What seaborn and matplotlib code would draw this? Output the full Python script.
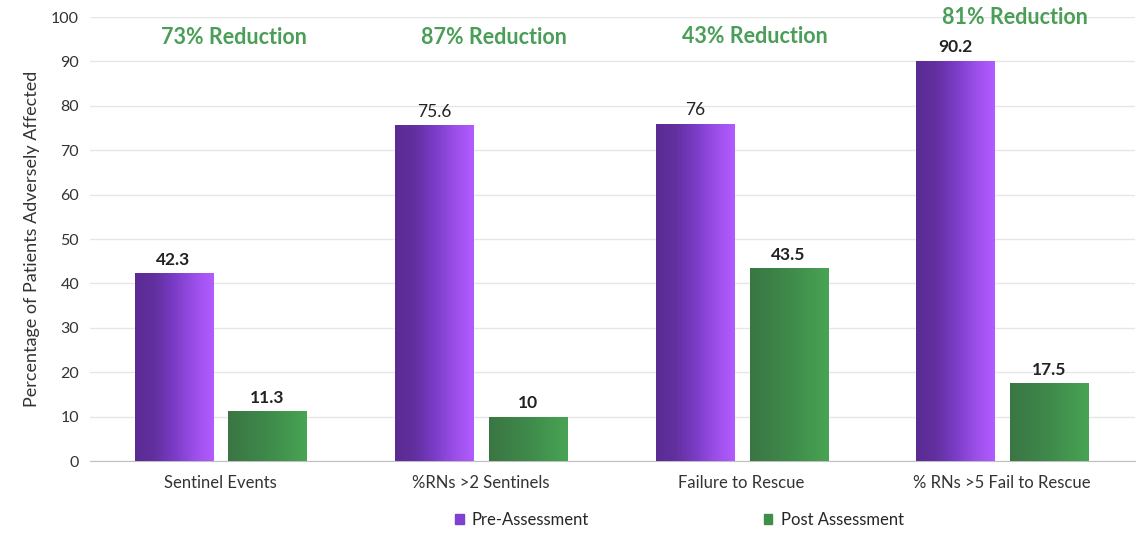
import numpy as np
import pandas as pd
import matplotlib
matplotlib.use("Agg")
import matplotlib.pyplot as plt
import seaborn as sns
from matplotlib.colors import LinearSegmentedColormap

categories = ["Sentinel Events", "%RNs >2 Sentinels", "Failure to Rescue", "% RNs >5 Fail to Rescue"]
pre_values = [42.3, 75.6, 76, 90.2]
post_values = [11.3, 10, 43.5, 17.5]
pre_labels = ["42.3", "75.6", "76", "90.2"]
post_labels = ["11.3", "10", "43.5", "17.5"]
reductions = ["73% Reduction", "87% Reduction", "43% Reduction", "81% Reduction"]
reduction_y = [95.3, 95.3, 95.7, 99.8]
series = ["Pre-Assessment", "Post Assessment"]

sns.set_style("white")
plt.rcParams['font.family'] = ['Lato', 'DejaVu Sans']

df = pd.DataFrame({
    "category": categories * 2,
    "value": pre_values + post_values,
    "series": [series[0]] * 4 + [series[1]] * 4,
})

purple_c = "#7b3fc4"
green_c = "#3f8f4a"

fig = plt.figure(figsize=(11.42, 5.33), dpi=100)
ax = fig.add_axes([0.079, 0.135, 0.915, 0.833])

sns.barplot(df, x="category", y="value", hue="series", order=categories,
            hue_order=series, palette=[purple_c, green_c], width=0.72, gap=0.167,
            ax=ax, legend=False, zorder=2)

# gradient fill, clipped to each bar
cmaps = {
    series[0]: LinearSegmentedColormap.from_list("p", ["#5a2b93", "#62309f", "#7a3cc6", "#9a4ee8", "#b25cff"]),
    series[1]: LinearSegmentedColormap.from_list("g", ["#3a7644", "#3f8a4a", "#48a454"]),
}
grad = np.linspace(0, 1, 256).reshape(1, -1)
bars = ax.patches
for i, bar in enumerate(bars[:8]):
    s = series[0] if i < 4 else series[1]
    x0 = bar.get_x()
    w = bar.get_width()
    h = bar.get_height()
    im = ax.imshow(grad, aspect="auto", cmap=cmaps[s], extent=[x0, x0 + w, 0, h], zorder=3)
    im.set_clip_path(bar)

for i in range(4):
    pb = bars[i]
    gb = bars[i + 4]
    ax.text(pb.get_x() + pb.get_width() / 2, pb.get_height() + 1.2, pre_labels[i],
            ha="center", va="bottom", fontsize=12.5,
            fontweight="normal" if i in (1, 2) else "bold", color="#222222", zorder=4)
    ax.text(gb.get_x() + gb.get_width() / 2, gb.get_height() + 1.2, post_labels[i],
            ha="center", va="bottom", fontsize=12.5, fontweight="bold", color="#222222", zorder=4)
    ax.text(i + 0.05, reduction_y[i], reductions[i], ha="center", va="center",
            fontsize=15.5, fontweight="bold", color="#4a9e57", zorder=4)

ax.set_xlim(-0.50, 3.51)
ax.set_ylim(0, 100)
ax.set_yticks(range(0, 101, 10))
ax.yaxis.grid(True, color="#e6e6e6", linewidth=1)
ax.set_axisbelow(True)
for side in ["top", "right", "left"]:
    ax.spines[side].set_visible(False)
ax.spines["bottom"].set_color("#bfbfbf")
ax.tick_params(axis="y", length=0, labelsize=11.5, colors="#333333", pad=8)
ax.tick_params(axis="x", length=0, labelsize=12, colors="#333333", pad=10)
ax.set_xlabel("")
ax.set_ylabel("Percentage of Patients Adversely Affected", fontsize=13, color="#333333", labelpad=8)

handles = [plt.Rectangle((0, 0), 1, 1, color="#8040d0"), plt.Rectangle((0, 0), 1, 1, color="#3f8f4a")]
fig.legend(handles, series, loc="center", bbox_to_anchor=(0.595, 0.025), ncol=2, frameon=False,
           fontsize=12, handlelength=0.5, handleheight=0.5, handletextpad=0.5, columnspacing=10.5)

fig.savefig("out.png", dpi=100)
